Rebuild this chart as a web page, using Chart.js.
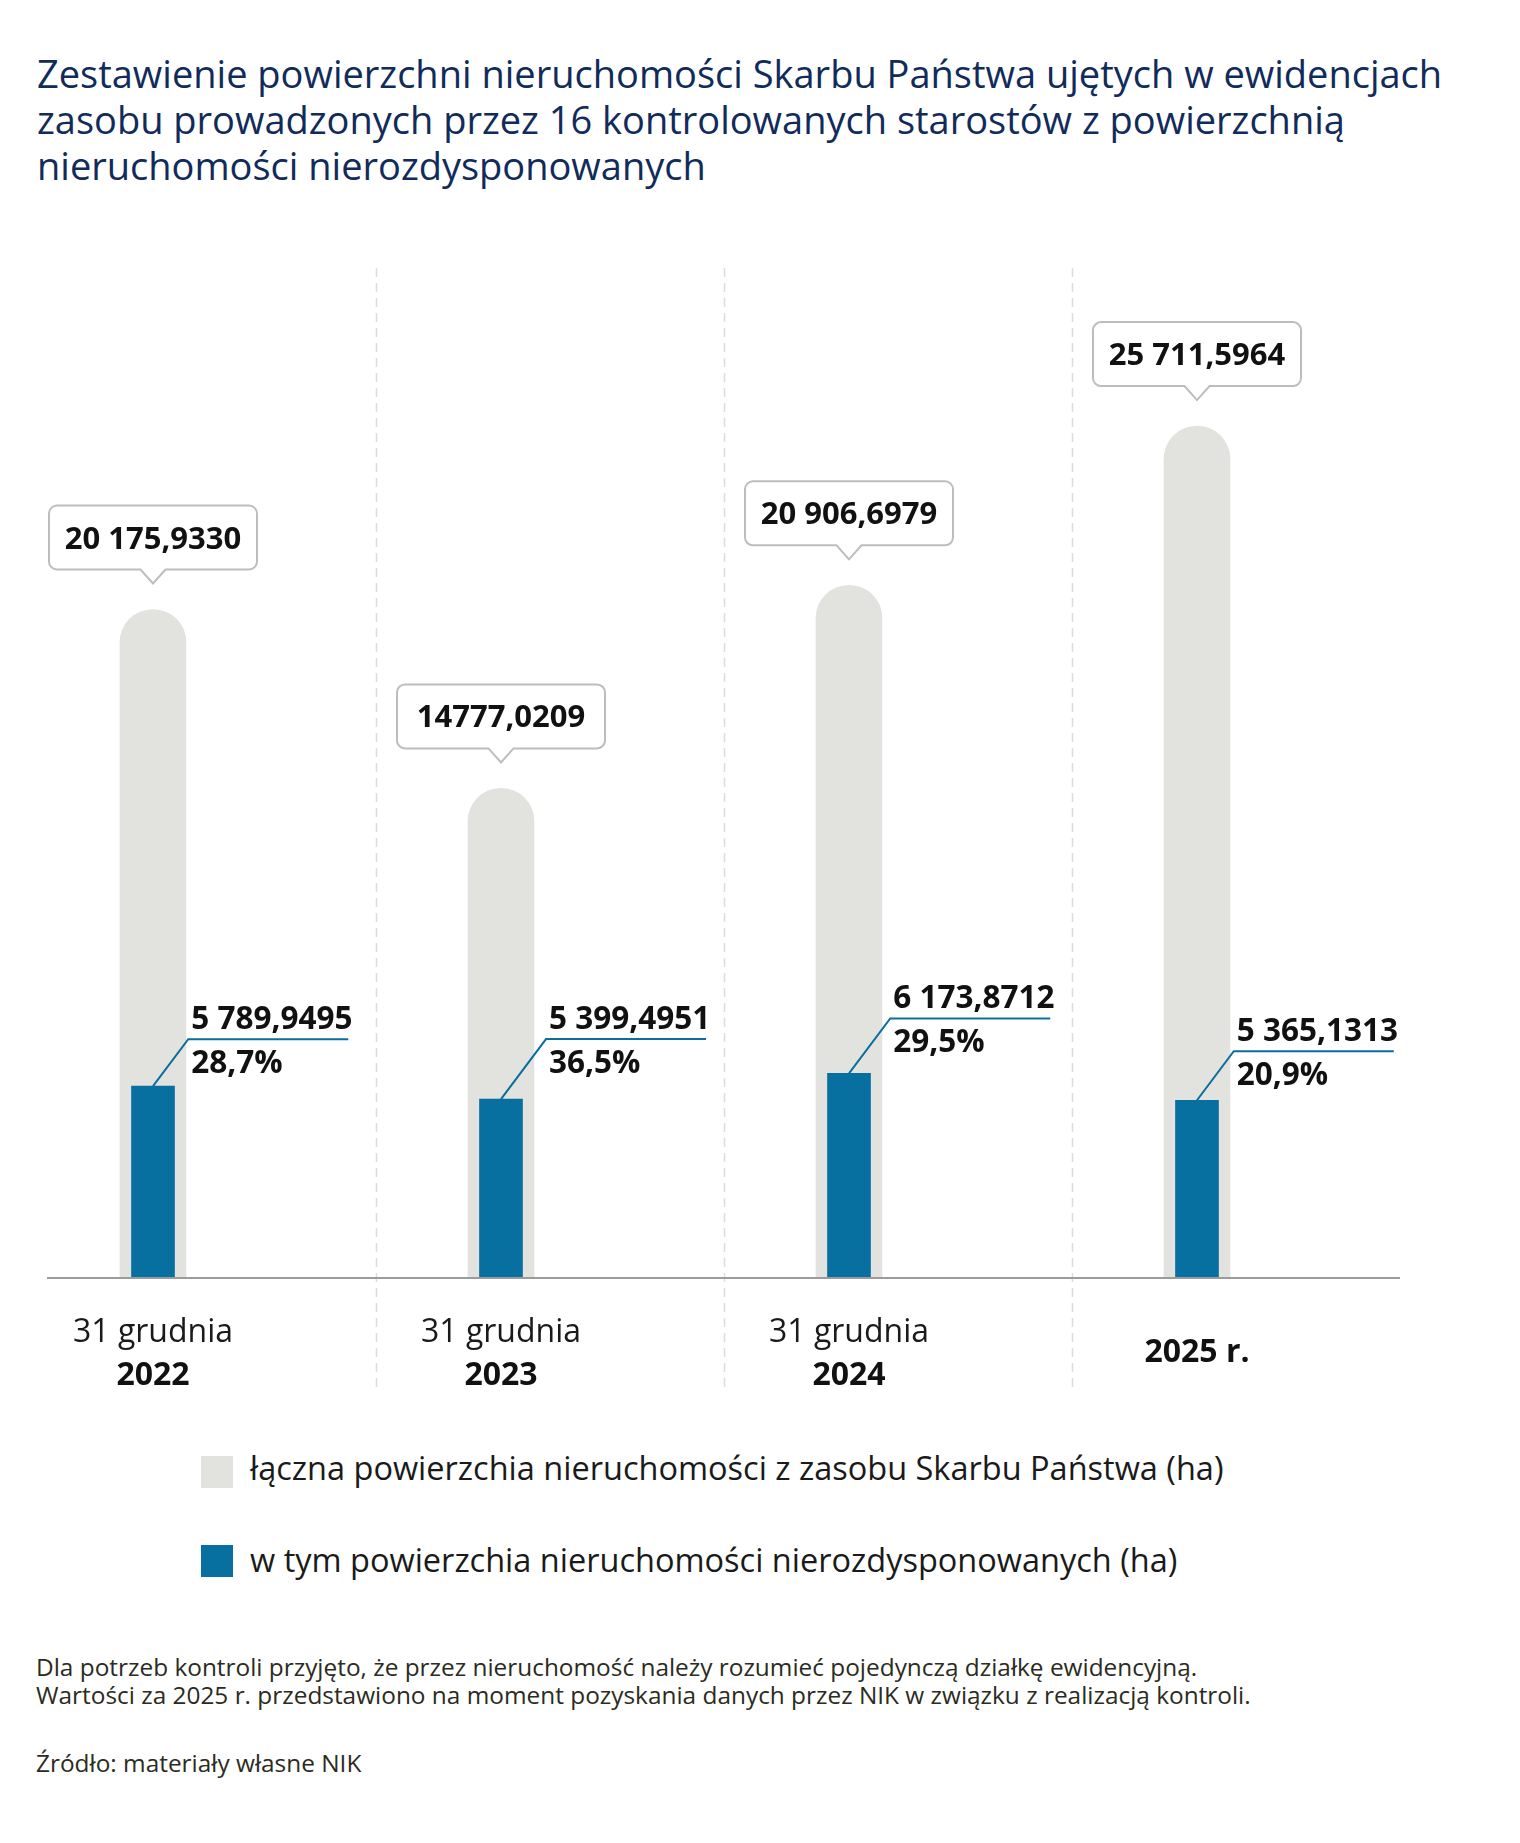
<!DOCTYPE html>
<html lang="pl">
<head>
<meta charset="utf-8">
<title>Powierzchnia nieruchomości Skarbu Państwa</title>
<script src="https://cdn.jsdelivr.net/npm/chart.js@4.4.1/dist/chart.umd.min.js"></script>
<style>
  body { margin: 0; background: #fff; font-family: "Open Sans", sans-serif; }
  #page { position: relative; width: 1520px; height: 1843px; overflow: hidden; }
  .t { position: absolute; white-space: nowrap; }
  #title { left: 37px; top: 50px; font-size: 38px; line-height: 46px; color: #112b5a; }
  #chartWrap { position: absolute; left: 0; top: 240px; width: 1520px; height: 1180px; }
  .sw { position: absolute; left: 201px; width: 32px; height: 32px; }
  .lg { left: 250px; font-size: 32.5px; line-height: 40px; color: #1a1a1a; }
  .ft { left: 36px; font-size: 24.4px; line-height: 28px; color: #2b2b22; }
</style>
</head>
<body>
<div id="page">
  <div id="title" class="t">Zestawienie powierzchni nieruchomości Skarbu Państwa ujętych w ewidencjach<br>zasobu prowadzonych przez 16 kontrolowanych starostów z powierzchnią<br>nieruchomości nierozdysponowanych</div>

  <div id="chartWrap"><canvas id="chart" width="1520" height="1180"></canvas></div>

  <div class="sw" style="top:1456px;background:#e2e2de"></div>
  <div class="t lg" style="top:1448px">łączna powierzchia nieruchomości z zasobu Skarbu Państwa (ha)</div>
  <div class="sw" style="top:1545px;background:#0770a0"></div>
  <div class="t lg" style="top:1540px">w tym powierzchia nieruchomości nierozdysponowanych (ha)</div>

  <div class="t ft" style="top:1653px">Dla potrzeb kontroli przyjęto, że przez nieruchomość należy rozumieć pojedynczą działkę ewidencyjną.<br>Wartości za 2025 r. przedstawiono na moment pozyskania danych przez NIK w związku z realizacją kontroli.</div>
  <div class="t ft" style="top:1749px">Źródło: materiały własne NIK</div>
</div>

<script>
// data
const years = ["2022", "2023", "2024", "2025 r."];
const dateLines = ["31 grudnia", "31 grudnia", "31 grudnia", ""];
const totalArea = [20175.9330, 14777.0209, 20906.6979, 25711.5964];
const totalLabels = ["20 175,9330", "14777,0209", "20 906,6979", "25 711,5964"];
const freeArea = [5789.9495, 5399.4951, 6173.8712, 5365.1313];
const freeLabels = ["5 789,9495", "5 399,4951", "6 173,8712", "5 365,1313"];
const freeShare = ["28,7%", "36,5%", "29,5%", "20,9%"];

// leader line rise above each blue bar (px)
const leaderRise = [47, 60, 55, 49];

const GREY = "#e2e2de";
const BLUE = "#0770a0";
const FONT = "'Open Sans', sans-serif";

const decor = {
  id: "decor",
  beforeDatasetsDraw(chart) {
    const { ctx, scales: { x, y } } = chart;
    const base = y.getPixelForValue(0);
    ctx.save();
    // dashed column separators
    ctx.strokeStyle = "#dcdcdc";
    ctx.lineWidth = 1.5;
    ctx.setLineDash([9, 6]);
    for (let i = 0; i < years.length - 1; i++) {
      const sx = Math.round(x.getPixelForValue(i + 0.64)) + 0.5;
      ctx.beginPath();
      ctx.moveTo(sx, base - 1010);
      ctx.lineTo(sx, base + 110);
      ctx.stroke();
    }
    ctx.restore();
  },
  afterDatasetsDraw(chart) {
    const { ctx, scales: { x, y } } = chart;
    const base = y.getPixelForValue(0);
    ctx.save();

    // baseline
    ctx.strokeStyle = "#9b9b9b";
    ctx.lineWidth = 2;
    ctx.beginPath();
    ctx.moveTo(47, base);
    ctx.lineTo(1400, base);
    ctx.stroke();

    const grey = chart.getDatasetMeta(1).data;
    const blue = chart.getDatasetMeta(0).data;

    grey.forEach((bar, i) => {
      // callout with total
      const cx = bar.x, top = bar.y;
      const w = 208, h = 64, r = 8;
      const bx = cx - w / 2, by = top - 40 - h;
      ctx.beginPath();
      ctx.moveTo(bx + r, by);
      ctx.lineTo(bx + w - r, by);
      ctx.arcTo(bx + w, by, bx + w, by + r, r);
      ctx.lineTo(bx + w, by + h - r);
      ctx.arcTo(bx + w, by + h, bx + w - r, by + h, r);
      ctx.lineTo(cx + 12.5, by + h);
      ctx.lineTo(cx, by + h + 14);
      ctx.lineTo(cx - 12.5, by + h);
      ctx.lineTo(bx + r, by + h);
      ctx.arcTo(bx, by + h, bx, by + h - r, r);
      ctx.lineTo(bx, by + r);
      ctx.arcTo(bx, by, bx + r, by, r);
      ctx.closePath();
      ctx.fillStyle = "#fff";
      ctx.fill();
      ctx.strokeStyle = "#bdbdbd";
      ctx.lineWidth = 2;
      ctx.stroke();

      ctx.fillStyle = "#111";
      ctx.font = "bold 31px " + FONT;
      ctx.textAlign = "center";
      ctx.textBaseline = "alphabetic";
      ctx.fillText(totalLabels[i], cx, by + 43);

      // category labels under the axis
      if (dateLines[i]) {
        ctx.font = "32px " + FONT;
        ctx.fillStyle = "#1a1a1a";
        ctx.fillText(dateLines[i], cx, base + 64);
        ctx.font = "bold 32px " + FONT;
        ctx.fillStyle = "#111";
        ctx.fillText(years[i], cx, base + 107);
      } else {
        ctx.font = "bold 32px " + FONT;
        ctx.fillStyle = "#111";
        ctx.fillText(years[i], cx, base + 84);
      }
    });

    blue.forEach((bar, i) => {
      const rise = leaderRise[i];
      const lx = bar.x + rise * 0.75, ly = bar.y - rise;
      ctx.strokeStyle = "#0a6e9d";
      ctx.lineWidth = 2;
      ctx.beginPath();
      ctx.moveTo(bar.x, bar.y);
      ctx.lineTo(lx, ly);
      ctx.lineTo(lx + 160, ly);
      ctx.stroke();

      ctx.fillStyle = "#111";
      ctx.font = "bold 31.5px " + FONT;
      ctx.textAlign = "left";
      ctx.fillText(freeLabels[i], lx + 3, ly - 10);
      ctx.fillText(freeShare[i], lx + 3, ly + 34);
    });
    ctx.restore();
  }
};

new Chart(document.getElementById("chart"), {
  type: "bar",
  data: {
    labels: years,
    datasets: [
      {
        label: "w tym powierzchia nieruchomości nierozdysponowanych (ha)",
        data: freeArea,
        backgroundColor: BLUE,
        barThickness: 43,
        order: 1,
        clip: false,
      },
      {
        label: "łączna powierzchia nieruchomości z zasobu Skarbu Państwa (ha)",
        data: totalArea,
        backgroundColor: GREY,
        barThickness: 66,
        borderRadius: { topLeft: 33, topRight: 33, bottomLeft: 0, bottomRight: 0 },
        borderSkipped: "bottom",
        order: 2,
        clip: false,
      },
    ],
  },
  options: {
    responsive: false,
    animation: false,
    events: [],
    grouped: false,
    layout: { padding: { left: 153, right: 323, top: 44, bottom: 142 } },
    scales: {
      x: { display: false, offset: false },
      y: { display: false, min: 0, max: 30000 },
    },
    plugins: {
      legend: { display: false },
      tooltip: { enabled: false },
    },
  },
  plugins: [decor],
});
</script>
</body>
</html>
